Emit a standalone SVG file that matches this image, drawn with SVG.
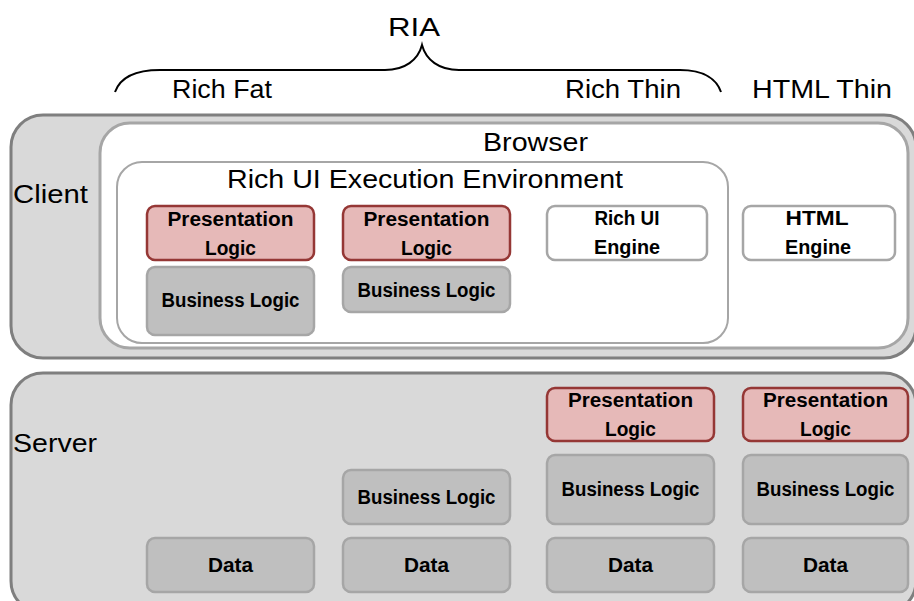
<svg xmlns="http://www.w3.org/2000/svg" width="914" height="601" viewBox="0 0 914 601">
<style>
.lbl{font-family:"Liberation Sans",Arial,sans-serif;font-size:25px;fill:#000}
.bx{font-family:"Liberation Sans",Arial,sans-serif;font-size:20px;font-weight:bold;fill:#000;text-anchor:middle}
.pres{fill:#e6b9b8;stroke:#953735;stroke-width:2.5}
.gray{fill:#bfbfbf;stroke:#a6a6a6;stroke-width:2.5}
.eng{fill:#ffffff;stroke:#a6a6a6;stroke-width:2.5}
.tier{fill:#d9d9d9;stroke:#7f7f7f;stroke-width:3}
</style>
<rect width="914" height="601" fill="#ffffff"/>
<g id="brace">
<path d="M115,92 C120,78 135,70 160,70 L385,70 C405,70 418,60 422,45 C426,60 439,70 459,70 L680,70 C705,70 717,80 721,92" fill="none" stroke="#000" stroke-width="2"/>
<text class="lbl" x="388" y="36" textLength="52" lengthAdjust="spacingAndGlyphs">RIA</text>
<text class="lbl" x="172" y="98" textLength="100" lengthAdjust="spacingAndGlyphs">Rich Fat</text>
<text class="lbl" x="565" y="98" textLength="116" lengthAdjust="spacingAndGlyphs">Rich Thin</text>
<text class="lbl" x="752" y="98" textLength="140" lengthAdjust="spacingAndGlyphs">HTML Thin</text>
</g>
<g id="client">
<rect class="tier" x="11" y="115" width="905" height="243" rx="32"/>
<text class="lbl" x="13" y="203" textLength="75" lengthAdjust="spacingAndGlyphs">Client</text>
</g>
<g id="browser">
<rect x="100" y="123" width="808" height="225" rx="30" fill="#fff" stroke="#a6a6a6" stroke-width="3"/>
<text class="lbl" x="483" y="151" textLength="105" lengthAdjust="spacingAndGlyphs">Browser</text>
</g>
<g id="richui-env">
<rect x="117" y="162" width="611" height="181" rx="25" fill="#fff" stroke="#a6a6a6" stroke-width="2"/>
<text class="lbl" x="227" y="188" textLength="396" lengthAdjust="spacingAndGlyphs">Rich UI Execution Environment</text>
</g>
<g id="c-pres1">
<rect class="pres" x="147" y="206" width="167" height="54" rx="8"/>
<text class="bx" x="230.5" y="226" textLength="126" lengthAdjust="spacingAndGlyphs">Presentation</text>
<text class="bx" x="230.5" y="255" textLength="51" lengthAdjust="spacingAndGlyphs">Logic</text>
</g>
<g id="c-pres2">
<rect class="pres" x="343" y="206" width="167" height="54" rx="8"/>
<text class="bx" x="426.5" y="226" textLength="126" lengthAdjust="spacingAndGlyphs">Presentation</text>
<text class="bx" x="426.5" y="255" textLength="51" lengthAdjust="spacingAndGlyphs">Logic</text>
</g>
<g id="c-bl1">
<rect class="gray" x="147" y="267" width="167" height="68" rx="8"/>
<text class="bx" x="230.5" y="307" textLength="138" lengthAdjust="spacingAndGlyphs">Business Logic</text>
</g>
<g id="c-bl2">
<rect class="gray" x="343" y="267" width="167" height="45" rx="8"/>
<text class="bx" x="426.5" y="297" textLength="138" lengthAdjust="spacingAndGlyphs">Business Logic</text>
</g>
<g id="richui-engine">
<rect class="eng" x="547" y="206" width="160" height="54" rx="8"/>
<text class="bx" x="627" y="225" textLength="65" lengthAdjust="spacingAndGlyphs">Rich UI</text>
<text class="bx" x="627" y="254" textLength="66" lengthAdjust="spacingAndGlyphs">Engine</text>
</g>
<g id="html-engine">
<rect class="eng" x="743" y="206" width="152" height="54" rx="8"/>
<text class="bx" x="817" y="225" textLength="63" lengthAdjust="spacingAndGlyphs">HTML</text>
<text class="bx" x="818" y="254" textLength="66" lengthAdjust="spacingAndGlyphs">Engine</text>
</g>
<g id="server">
<rect class="tier" x="11" y="373" width="905" height="240" rx="32"/>
<text class="lbl" x="13" y="452" textLength="84" lengthAdjust="spacingAndGlyphs">Server</text>
</g>
<g id="s-pres3">
<rect class="pres" x="547" y="388" width="167" height="53" rx="8"/>
<text class="bx" x="630.5" y="407" textLength="125" lengthAdjust="spacingAndGlyphs">Presentation</text>
<text class="bx" x="630.5" y="436" textLength="51" lengthAdjust="spacingAndGlyphs">Logic</text>
</g>
<g id="s-pres4">
<rect class="pres" x="743" y="388" width="165" height="53" rx="8"/>
<text class="bx" x="825.5" y="407" textLength="125" lengthAdjust="spacingAndGlyphs">Presentation</text>
<text class="bx" x="825.5" y="436" textLength="51" lengthAdjust="spacingAndGlyphs">Logic</text>
</g>
<g id="s-bl2">
<rect class="gray" x="343" y="470" width="167" height="54" rx="8"/>
<text class="bx" x="426.5" y="504" textLength="138" lengthAdjust="spacingAndGlyphs">Business Logic</text>
</g>
<g id="s-bl3">
<rect class="gray" x="547" y="455" width="167" height="69" rx="8"/>
<text class="bx" x="630.5" y="496" textLength="138" lengthAdjust="spacingAndGlyphs">Business Logic</text>
</g>
<g id="s-bl4">
<rect class="gray" x="743" y="455" width="165" height="69" rx="8"/>
<text class="bx" x="825.5" y="496" textLength="138" lengthAdjust="spacingAndGlyphs">Business Logic</text>
</g>
<g id="s-data1">
<rect class="gray" x="147" y="538" width="167" height="54" rx="8"/>
<text class="bx" x="230.5" y="572" textLength="45" lengthAdjust="spacingAndGlyphs">Data</text>
</g>
<g id="s-data2">
<rect class="gray" x="343" y="538" width="167" height="54" rx="8"/>
<text class="bx" x="426.5" y="572" textLength="45" lengthAdjust="spacingAndGlyphs">Data</text>
</g>
<g id="s-data3">
<rect class="gray" x="547" y="538" width="167" height="54" rx="8"/>
<text class="bx" x="630.5" y="572" textLength="45" lengthAdjust="spacingAndGlyphs">Data</text>
</g>
<g id="s-data4">
<rect class="gray" x="743" y="538" width="165" height="54" rx="8"/>
<text class="bx" x="825.5" y="572" textLength="45" lengthAdjust="spacingAndGlyphs">Data</text>
</g>
<g id="connectors"/>
</svg>
